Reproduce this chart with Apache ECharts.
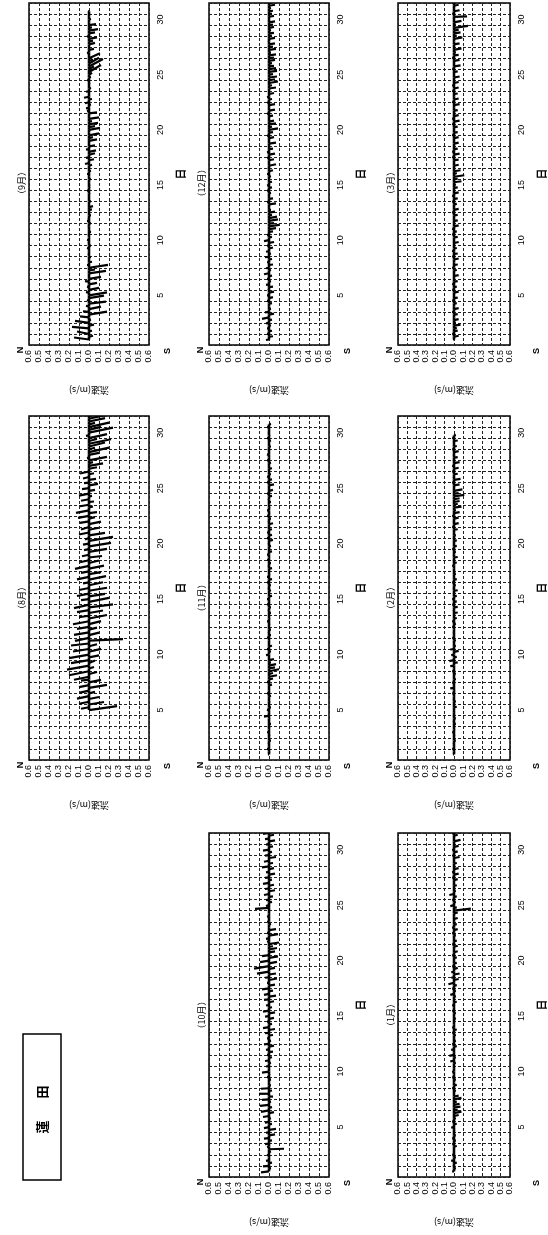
<!DOCTYPE html>
<html>
<head>
<meta charset="utf-8">
<script src="https://cdn.jsdelivr.net/npm/echarts@6/dist/echarts.min.js"></script>
<style>
  html, body { margin: 0; background: #fff; }
  #chart { width: 548px; height: 1235px; }
</style>
</head>
<body>
<div id="chart"></div>
<script>
// Monthly current stick plots for 蓮田, drawn on a page turned 90° (days run upward, N to the left).

const STEP = 0.25; // days between sticks
const dayTicks = [5, 10, 15, 20, 25, 30];

// N-S component (m/s, + = N) and E-W component (m/s) of each stick, one row = two days
const sepV = [
  .15,-.04,.12,-.03, .17,-.05,.14,-.02,
  .09,-.18,.06,-.12, .03,-.17,.02,-.15,
  -.18,.03,-.10,.02, -.08,.04,-.12,.01,
  -.17,-.06,-.19,.02, -.03,.01,-.02,.01,
  -.01,.02,-.02,.01, .02,-.01,.01,-.02,
  -.01,.01,-.02,.02, .01,-.02,.01,-.03,
  -.04,.01,-.02,.01, .01,-.01,.02,-.01,
  -.01,.01,-.02,.01, .02,-.02,.01,-.03,
  .04,-.05,.03,-.06, -.07,.03,-.06,.01,
  -.08,-.04,-.10,.01, -.11,-.06,-.09,-.03,
  -.10,.01,-.08,.02, .03,-.02,.04,-.03,
  .05,-.01,.03,-.02, .01,-.01,.02,-.02,
  -.03,-.12,-.05,-.14, -.10,-.04,-.11,.01,
  .02,-.05,.01,-.06, -.04,-.08,.02,-.06,
  -.09,-.03,-.07,.01, -.02,.01,-.01,.01
];
const sepU = [
  .04,.02,.05,.01, .03,.02,.04,.01,
  .02,.06,.01,.05, .01,.04,.02,.05,
  .06,.01,.04,.01, .03,.01,.04,0,
  .05,.02,.06,0, .01,0,-.01,.01,
  0,.01,0,-.01, .01,0,.01,0,
  0,-.01,.01,0, .01,0,0,.01,
  .02,0,.01,0, 0,.01,0,-.01,
  .01,0,.01,0, 0,.01,-.01,.02,
  -.02,.02,-.01,.03, .03,-.01,.02,0,
  .03,.02,.04,0, .04,.02,.03,.01,
  .03,0,.02,-.01, -.01,.01,-.02,.01,
  -.02,0,-.01,.01, 0,.01,0,.01,
  .04,.14,.06,.15, .12,.03,.10,0,
  -.01,.02,0,.03, .02,.03,-.01,.02,
  .03,.01,.02,0, .01,0,.01,0
];

const decV = [
  .03,-.04,.02,-.03, .02,-.02,.03,-.03,
  .07,-.05,.04,-.02, .01,-.03,.02,-.04,
  .02,-.05,.01,-.04, .03,-.02,.02,-.03,
  .05,-.02,.03,-.04, .02,-.03,.04,-.02,
  .03,-.04,.02,-.05, .05,-.03,.02,-.04,
  -.07,-.10,-.05,-.09, -.08,-.03,-.06,-.02,
  .01,-.07,.02,-.04, .01,-.02,.02,-.03,
  .02,-.03,.01,-.02, .02,-.04,.01,-.07,
  .01,-.05,.02,-.06, .02,-.04,.01,-.07,
  .01,-.05,.02,-.04, -.09,-.03,-.07,-.05,
  .01,-.04,.02,-.06, .01,-.06,.02,-.03,
  .02,-.05,.01,-.07, -.03,-.09,-.06,-.08,
  -.04,-.08,-.07,-.05, -.03,-.06,-.05,-.07,
  -.02,-.07,-.04,-.06, .01,-.06,-.03,-.05,
  -.02,-.05,-.04,-.06, .01,-.05,-.03,-.04,
  -.02,-.06,-.04,-.03
];
const decU = [
  -.01,.01,0,.01, 0,.01,-.01,.01,
  -.03,.02,-.01,.01, 0,.01,0,.02,
  0,.02,-.01,.01, -.01,.01,0,.01,
  -.02,.01,-.01,.01, 0,.01,-.01,.01,
  -.01,.02,0,.02, -.02,.01,-.01,.01,
  .02,.03,.01,.03, .03,.01,.02,0,
  0,.02,-.01,.01, 0,.01,0,.01,
  -.01,.01,0,.01, 0,.02,-.01,.03,
  0,.02,-.01,.02, -.01,.01,0,.02,
  0,.02,-.01,.01, .03,.01,.02,.02,
  0,.01,-.01,.02, 0,.02,-.01,.01,
  -.01,.02,0,.02, .01,.03,.02,.02,
  .01,.02,.02,.01, .01,.02,.01,.02,
  0,.02,.01,.02, -.01,.02,.01,.01,
  .01,.02,.01,.02, 0,.02,.01,.01,
  .01,.02,.01,.01
];

const marV = [
  .01,-.05,.02,-.04, -.03,-.07,-.02,-.05,
  .01,-.04,.02,-.05, .01,-.03,.02,-.04,
  .01,-.05,.02,-.03, .02,-.04,.01,-.05,
  .01,-.03,.02,-.04, .01,-.05,.02,-.04,
  .02,-.03,.01,-.05, .01,-.04,.02,-.03,
  .02,-.05,.01,-.04, .01,-.04,.02,-.05,
  .01,-.03,.02,-.04, .02,-.05,.01,-.04,
  -.02,-.08,-.04,-.11, -.03,-.07,.01,-.05,
  .01,-.05,.02,-.06, .02,-.04,.01,-.05,
  .01,-.05,.02,-.04, .01,-.04,.02,-.06,
  .02,-.05,.01,-.04, .01,-.06,.02,-.05,
  .01,-.04,.02,-.05, .02,-.05,.01,-.06,
  .01,-.04,.02,-.07, .01,-.06,.02,-.05,
  -.02,-.08,.01,-.06, .01,-.09,-.03,-.07,
  -.05,-.15,-.02,-.08, .01,-.14,.02,-.06,
  .01,-.05,.02,-.04
];
const marU = [
  0,.02,0,.01, .01,.02,.01,.02,
  0,.01,0,.02, 0,.01,.01,.01,
  0,.02,0,.01, .01,.01,0,.02,
  0,.01,0,.01, 0,.02,.01,.01,
  .01,.01,0,.02, 0,.01,.01,.01,
  .01,.02,0,.01, 0,.01,.01,.02,
  0,.01,0,.01, .01,.02,0,.01,
  .01,.02,.02,.03, .02,.02,0,.02,
  0,.01,.01,.02, .01,.01,0,.02,
  0,.02,.01,.01, 0,.01,.01,.02,
  .01,.02,0,.01, 0,.02,.01,.02,
  0,.01,.01,.02, .01,.02,0,.02,
  0,.01,.01,.02, 0,.02,.01,.01,
  .01,.03,0,.02, 0,.03,.01,.02,
  .02,.04,.01,.03, 0,.01,.01,.02,
  0,.02,.01,.01
];

// August record starts on day 5
const augV = [
  -.28,.08,-.15,.10, -.10,.12,-.06,.09,
  -.18,.10,-.12,.08, .15,-.08,.20,-.05,
  .22,-.06,.18,-.10, .20,-.12,.16,-.08,
  .18,-.34,.14,-.10, .15,-.08,.12,-.12,
  .16,-.18,.10,-.14, .12,-.24,.15,-.20,
  .08,-.16,.12,-.18, .10,-.14,.06,-.17,
  .12,-.12,.08,-.15, .14,-.10,.09,-.13,
  .07,-.18,.05,-.22, .06,-.24,.04,-.16,
  .10,-.10,.08,-.12, .09,-.06,.11,-.08,
  .13,-.04,.09,-.05, .08,-.03,.10,-.06,
  .07,-.09,.05,-.07, .06,-.05,.09,-.08,
  -.14,-.04,-.18,.02, -.10,-.20,-.06,-.16,
  -.22,-.08,-.18,.03, -.24,-.12,-.20,-.06,
  -.16,-.22,-.10,-.18
];
const augU = [
  .08,-.03,.05,-.04, .04,-.05,.03,-.04,
  .06,-.04,.05,-.02, -.06,.04,-.08,.03,
  -.08,.05,-.06,.04, -.07,.06,-.05,.04,
  -.04,.03,-.06,.05, -.05,.04,-.04,.06,
  -.06,.07,-.03,.05, -.04,.06,-.07,.08,
  -.02,.05,-.05,.06, -.04,.06,-.02,.07,
  -.05,.04,-.03,.06, -.06,.05,-.04,.03,
  -.03,.06,-.02,.07, -.02,.08,-.03,.05,
  -.04,.04,-.05,.05, -.03,.03,-.04,.02,
  -.05,.02,-.03,.01, -.03,.01,-.04,.02,
  -.02,.03,-.01,.02, -.03,.02,-.04,.03,
  .05,.02,.07,-.01, .04,.09,.03,.08,
  .09,.04,.08,-.01, .10,.06,.09,.03,
  .07,.10,.05,.08
];

const novV = [
  .01,-.01,.02,-.01, .01,-.02,.01,-.01,
  .02,-.01,.01,-.02, .01,-.01,.05,-.01,
  .02,-.02,.01,-.01, .01,-.02,.02,-.01,
  .01,-.03,.02,-.04, -.08,-.04,-.10,-.06,
  -.07,-.02,-.05,.01, .03,-.02,.02,-.03,
  .01,-.01,.02,-.02, .01,-.02,.01,-.01,
  .02,-.01,.01,-.02, .01,-.02,.02,-.01,
  .02,-.03,.01,-.02, .01,-.02,.02,-.03,
  .02,-.01,.01,-.03, .01,-.02,.02,-.01,
  .02,-.03,.01,-.02, .01,-.04,.02,-.03,
  .02,-.03,.01,-.04, .01,-.02,.02,-.01,
  .02,-.01,.01,-.02, .01,-.03,.02,-.04,
  .01,-.05,.02,-.03, .02,-.02,.01,-.03,
  .01,-.02,.02,-.01, .02,-.01,.01,-.02,
  .01,-.02,.02,-.01, .01,-.01,.02,-.02
];
const novU = [
  0,.01,0,0, .01,0,0,.01,
  0,0,.01,0, 0,.01,-.02,0,
  .01,0,0,.01, 0,.01,0,0,
  0,.01,.01,.02, .03,.02,.04,.02,
  .03,.01,.02,0, -.01,.01,0,.01,
  0,0,.01,0, .01,0,0,.01,
  0,.01,0,0, .01,0,.01,0,
  0,.01,0,.01, .01,0,0,.01,
  0,.01,0,.01, .01,0,.01,0,
  0,.01,0,.01, .01,.02,0,.01,
  0,.01,.01,.02, .01,0,0,.01,
  0,.01,0,0, .01,.01,0,.02,
  0,.02,.01,.01, .01,0,0,.01,
  0,.01,0,0, .01,0,.01,0,
  0,.01,0,.01, .01,0,0,.01
];

const febV = [
  .01,-.01,.02,-.01, .01,-.02,.01,-.01,
  .02,-.01,.01,-.02, .01,-.02,.01,-.01,
  .01,-.03,.01,-.02, .01,-.01,.02,-.01,
  .04,-.01,.02,-.02, .01,-.02,.02,-.01,
  .04,-.04,.05,-.03, .03,-.05,.04,-.02,
  .01,-.02,.02,-.01, .01,-.01,.02,-.02,
  .02,-.03,.01,-.04, .01,-.04,.02,-.03,
  .02,-.03,.01,-.04, .01,-.02,.02,-.03,
  .01,-.02,.01,-.01, .02,-.03,.01,-.04,
  .01,-.02,.02,-.03, .01,-.03,.01,-.02,
  .01,-.04,.02,-.05, .01,-.05,.02,-.06,
  -.02,-.08,-.04,-.06, -.06,-.11,-.05,-.09,
  .01,-.06,.02,-.07, .01,-.04,.02,-.05,
  .02,-.06,.01,-.04, .01,-.05,.02,-.03,
  .01,-.04,.02,-.02
];
const febU = [
  0,.01,0,0, .01,0,0,.01,
  0,.01,0,0, .01,0,.01,0,
  0,.01,0,.01, .01,0,0,.01,
  -.01,0,-.01,.01, 0,.01,0,0,
  -.01,.01,-.02,.01, -.01,.02,-.01,.01,
  0,.01,0,0, .01,0,0,.01,
  0,.01,0,.01, .01,.01,0,.01,
  0,.01,.01,.01, .01,0,0,.01,
  0,.01,0,0, 0,.01,.01,.01,
  .01,0,0,.01, 0,.01,.01,0,
  0,.01,0,.02, .01,.02,0,.02,
  .01,.02,.02,.02, .02,.03,.01,.03,
  0,.02,0,.02, .01,.01,0,.02,
  0,.02,.01,.01, .01,.02,0,.01,
  0,.01,.01,.01
];

const octV = [
  .08,-.02,.06,-.03, .03,-.01,.02,-.02,
  -.15,.02,.04,-.03, .05,-.06,.03,-.07,
  .05,-.03,.04,-.02, .06,-.05,.08,-.03,
  .09,-.02,.07,-.04, .10,-.03,.08,-.02,
  .01,-.02,.02,-.01, .07,-.01,.03,-.02,
  .04,-.03,.02,-.04, .03,-.05,.05,-.02,
  .02,-.04,.04,-.06, .06,-.03,.02,-.05,
  .04,-.06,.06,-.03, .03,-.05,.05,-.07,
  .05,-.04,.07,-.06, .02,-.08,.04,-.07,
  .12,-.06,.15,-.08, .09,-.09,.07,-.06,
  -.08,-.04,-.10,.02, .03,-.09,.02,-.07,
  .01,-.02,.02,-.01, .02,-.01,.01,.14,
  .03,-.03,.03,-.04, .05,-.06,.04,-.05,
  .06,-.03,.04,-.06, .03,-.05,.07,-.04,
  .05,-.07,.04,-.03, .06,-.04,.03,-.06,
  .04,-.05,.06,-.03
];
const octU = [
  -.02,.01,-.01,.01, -.01,0,-.01,.01,
  .01,-.01,-.01,.01, -.01,.02,0,.02,
  -.02,.01,-.03,.01, -.02,.02,-.03,.01,
  -.02,.01,-.01,0, 0,.01,-.01,0,
  0,.01,0,.01, -.02,0,-.01,.01,
  -.01,.01,0,.01, -.01,.02,-.01,.01,
  0,.01,-.01,.02, -.02,.01,0,.02,
  -.01,.02,-.02,.01, -.01,.02,-.01,.02,
  -.02,.01,-.02,.02, 0,.03,-.01,.02,
  -.04,.02,-.05,.03, -.03,.03,-.02,.02,
  .03,.01,.03,-.01, -.01,.03,0,.02,
  0,.01,0,0, -.01,0,0,-.02,
  -.02,.01,-.01,.01, -.02,.02,-.01,.02,
  -.02,.01,-.01,.02, -.01,.02,-.02,.01,
  -.02,.02,-.01,.01, -.02,.01,-.01,.02,
  -.01,.02,-.02,.01
];

const janV = [
  .02,-.02,.01,-.03, .03,-.02,.02,-.01,
  .01,-.03,.02,-.02, .02,-.02,.01,-.01,
  .03,-.03,.02,-.02, -.05,-.08,-.04,-.07,
  -.06,-.03,-.08,-.05, .01,-.02,.02,-.03,
  .01,-.02,.02,-.01, .02,-.01,.01,-.02,
  .04,-.02,.05,-.01, .03,-.03,.02,-.02,
  .01,-.02,.02,-.03, .02,-.01,.01,-.02,
  .01,-.02,.02,-.01, .02,-.03,.01,-.02,
  .04,-.02,.02,-.03, .06,-.05,.03,-.06,
  .03,-.04,.02,-.03, .01,-.03,.02,-.04,
  .01,-.04,.02,-.03, .01,-.02,.02,-.04,
  .02,-.03,.01,-.04, .01,-.04,-.18,-.03,
  .04,-.02,.02,-.03, .05,-.02,.01,-.03,
  .01,-.04,.02,-.05, .02,-.05,.01,-.03,
  .01,-.06,.02,-.04, .02,-.05,.01,-.07,
  .01,-.04,.02,-.05
];
const janU = [
  0,.01,-.01,.01, -.01,.01,0,0,
  0,.01,-.01,.01, -.01,0,0,.01,
  -.01,.01,0,.01, .02,.03,.01,.02,
  .02,.01,.03,.02, 0,.01,0,.01,
  0,.01,-.01,0, -.01,0,0,.01,
  -.02,.01,-.02,0, -.01,.01,-.01,.01,
  0,.01,0,.01, -.01,0,0,.01,
  0,.01,-.01,0, -.01,.01,0,.01,
  -.02,.01,-.01,.01, -.03,.02,-.01,.02,
  -.01,.02,-.01,.01, 0,.01,-.01,.02,
  0,.02,-.01,.01, 0,.01,-.01,.02,
  -.01,.01,0,.02, 0,.02,.04,.01,
  -.02,.01,-.01,.01, -.02,.01,0,.01,
  0,.02,-.01,.02, -.01,.02,0,.01,
  0,.02,-.01,.02, -.01,.02,0,.03,
  0,.02,-.01,.02
];

// page layout: plot boxes in pixels
const COLS = [29, 209, 398];
const ROWS = [1, 416, 833];
const PW = 120, PH = 344;
const DAY_MIN = 0.5, DAY_MAX = 31.5;
const VEL_MAX = 0.6;
// how far (in days) 1 m/s of E-W flow tilts a stick along the day axis
const DAYS_PER_MS = 4.5;

const panels = [
  { title: '（9月）',  v: sepV, u: sepU, start: 1, col: 0, row: 0 },
  { title: '（12月）', v: decV, u: decU, start: 1, col: 1, row: 0 },
  { title: '（3月）',  v: marV, u: marU, start: 1, col: 2, row: 0 },
  { title: '（8月）',  v: augV, u: augU, start: 5, col: 0, row: 1 },
  { title: '（11月）', v: novV, u: novU, start: 1, col: 1, row: 1 },
  { title: '（2月）',  v: febV, u: febU, start: 1, col: 2, row: 1 },
  { title: '（10月）', v: octV, u: octU, start: 1, col: 1, row: 2 },
  { title: '（1月）',  v: janV, u: janU, start: 1, col: 2, row: 2 },
];

const FONT = '"Liberation Sans", Arial, sans-serif';
const CJK = '"Noto Sans CJK JP", sans-serif';
const INK = '#000';
const dashed = { type: [3, 2], color: '#222', width: 1 };

function stickData(p) {
  const n = Math.min(p.v.length, p.u.length);
  const out = [];
  for (let i = 0; i < n; i++) out.push([p.v[i], p.start + i * STEP, p.u[i], i < n - 1 ? 1 : 0]);
  return out;
}

function renderStick(params, api) {
  // Stick from the zero line at its time to the velocity tip, plus the zero line to the next stick.
  const v = api.value(0), t = api.value(1), u = api.value(2), more = api.value(3);
  const p0 = api.coord([0, t]);
  const p1 = api.coord([v, t + u * DAYS_PER_MS]);
  const children = [{
    type: 'line',
    shape: { x1: p0[0], y1: p0[1], x2: p1[0], y2: p1[1] },
    style: { stroke: INK, lineWidth: 2.2 },
  }];
  if (more) {
    const p2 = api.coord([0, t + STEP]);
    children.push({
      type: 'line',
      shape: { x1: p0[0], y1: p0[1], x2: p2[0], y2: p2[1] },
      style: { stroke: INK, lineWidth: 2.6 },
    });
  }
  return { type: 'group', children };
}

function rotText(x, y, text, font) {
  return {
    type: 'text', x, y, rotation: Math.PI / 2, silent: true,
    style: { text, font, fill: INK, textAlign: 'center', textVerticalAlign: 'middle' },
  };
}

const graphic = [];
panels.forEach((p) => {
  const left = COLS[p.col], top = ROWS[p.row];
  const bottom = top + PH, right = left + PW;
  graphic.push(rotText(left - 7, top + PH / 2 + 10, p.title, `9px ${CJK}`));
  graphic.push(rotText(left - 8, bottom + 5, 'N', `bold 9px ${FONT}`));
  graphic.push(rotText(right + 19, bottom + 6, 'S', `bold 9px ${FONT}`));
});
graphic.push({
  type: 'rect', silent: true,
  shape: { x: 23, y: 1034, width: 38, height: 146 },
  style: { fill: '#fff', stroke: INK, lineWidth: 1.5 },
});
graphic.push(rotText(42, 1092, '田', `bold 13px ${CJK}`));
graphic.push(rotText(42, 1127, '蓮', `bold 13px ${CJK}`));

const option = {
  animation: false,
  backgroundColor: '#fff',
  grid: panels.map((p) => ({
    left: COLS[p.col], top: ROWS[p.row], width: PW, height: PH,
    show: true, borderColor: INK, borderWidth: 1.5, backgroundColor: 'transparent',
  })),
  xAxis: panels.map((p, i) => ({
    gridIndex: i, type: 'value', min: -VEL_MAX, max: VEL_MAX, interval: 0.1, inverse: true,
    axisLine: { show: false }, axisTick: { show: false },
    splitLine: { show: true, lineStyle: dashed },
    axisLabel: {
      rotate: 90, margin: 5, fontSize: 9, color: INK, fontFamily: FONT,
      formatter: (v) => Math.abs(v).toFixed(1),
    },
    name: '流速(m/s)', nameLocation: 'middle', nameGap: 41, nameRotate: 180,
    nameTextStyle: { fontSize: 9, color: INK, fontFamily: CJK },
  })),
  yAxis: panels.flatMap((p, i) => [
    {
      gridIndex: i, type: 'value', min: DAY_MIN, max: DAY_MAX, interval: 1, position: 'right',
      axisLine: { show: false }, axisTick: { show: false }, axisLabel: { show: false },
      splitLine: { show: true, lineStyle: dashed },
    },
    {
      gridIndex: i, type: 'value', min: DAY_MIN, max: DAY_MAX, interval: 0.5, position: 'right',
      axisLine: { show: false }, axisTick: { show: false }, splitLine: { show: false },
      axisLabel: {
        rotate: 90, margin: 7, fontSize: 9, color: INK, fontFamily: FONT,
        formatter: (v) => (dayTicks.includes(v) ? String(v) : ''),
      },
      name: '日', nameLocation: 'middle', nameGap: 26, nameRotate: 90,
      nameTextStyle: { fontSize: 11, fontWeight: 'bold', color: INK, fontFamily: CJK },
    },
  ]),
  series: panels.map((p, i) => ({
    type: 'custom', xAxisIndex: i, yAxisIndex: 2 * i,
    renderItem: renderStick, data: stickData(p), clip: true,
  })),
  graphic,
};

const chart = echarts.init(document.getElementById('chart'), null, { renderer: 'canvas' });
chart.setOption(option);
</script>
</body>
</html>
